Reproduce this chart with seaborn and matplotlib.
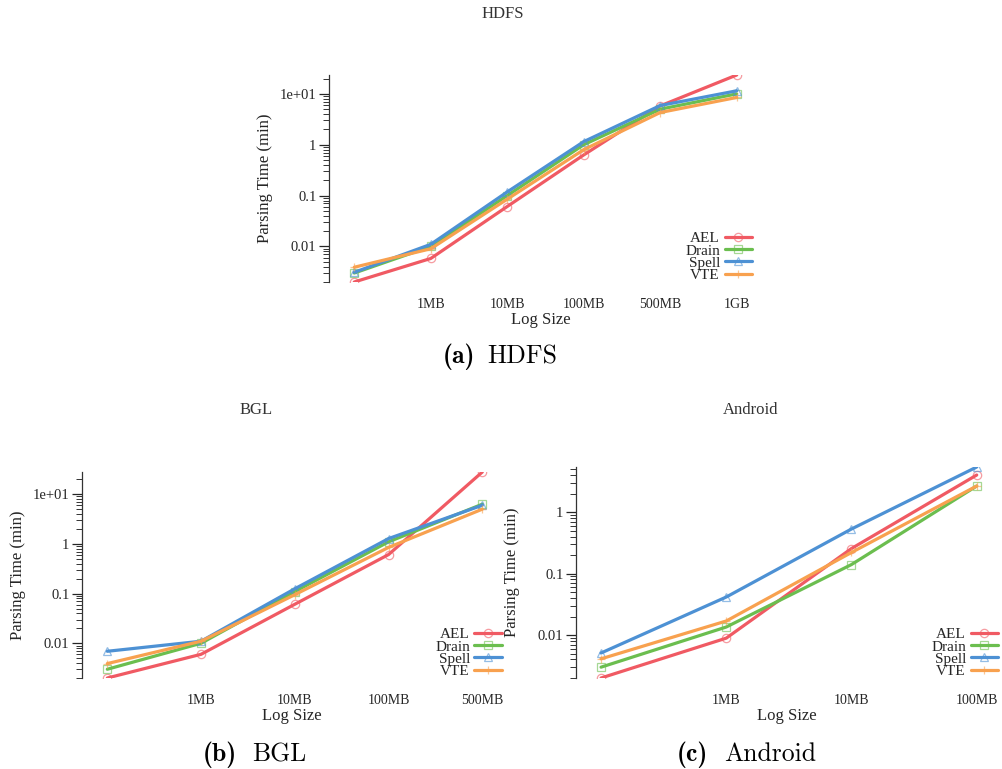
import numpy as np
import pandas as pd
import matplotlib
matplotlib.use("Agg")
import matplotlib.pyplot as plt
import matplotlib.ticker as mticker
import seaborn as sns

# ---------------- data ----------------
methods = ["AEL", "Drain", "Spell", "VTE"]

hdfs_sizes = ["", "1MB", "10MB", "100MB", "500MB", "1GB"]
hdfs_ael = [0.002, 0.0058, 0.061, 0.63, 5.8, 23.5]
hdfs_drain = [0.003, 0.0100, 0.100, 1.00, 5.0, 10.0]
hdfs_spell = [0.0031, 0.011, 0.118, 1.15, 5.9, 11.5]
hdfs_vte = [0.0039, 0.009, 0.085, 0.80, 4.3, 8.5]

bgl_sizes = ["", "1MB", "10MB", "100MB", "500MB"]
bgl_ael = [0.002, 0.006, 0.061, 0.61, 28.0]
bgl_drain = [0.003, 0.010, 0.110, 1.10, 6.3]
bgl_spell = [0.0069, 0.011, 0.125, 1.28, 6.0]
bgl_vte = [0.0039, 0.011, 0.095, 0.85, 5.0]

android_sizes = ["", "1MB", "10MB", "100MB"]
android_ael = [0.002, 0.0089, 0.255, 4.0]
android_drain = [0.003, 0.0135, 0.140, 2.65]
android_spell = [0.0051, 0.0415, 0.53, 5.4]
android_vte = [0.0041, 0.0169, 0.220, 2.65]

panel_titles = ["HDFS", "BGL", "Android"]
caption_labels = ["(a)", "(b)", "(c)"]

# ---------------- style ----------------
sns.set_theme(style="white")
plt.rcParams["font.family"] = ["Liberation Serif", "DejaVu Serif"]

colors = {"AEL": "#F05A63", "Drain": "#6BBE4F", "Spell": "#4D91D4", "VTE": "#F8A14F"}
markers = {"AEL": "o", "Drain": "s", "Spell": "^", "VTE": "+"}
text_color = "#262626"

W, H = 1002, 769
fig = plt.figure(figsize=(W / 100, H / 100), dpi=100)


def rect(left, top, right, bottom):
    return [left / W, 1 - bottom / H, (right - left) / W, (bottom - top) / H]


def fmt(v, pos):
    if v >= 10:
        return f"{v:.0e}"
    return f"{v:g}"


def draw(ax, sizes, series, xlim):
    x = np.arange(len(sizes))
    allv = []
    for name, vals in zip(methods, series):
        df = pd.DataFrame({"size": x, "time": vals})
        allv.extend(vals)
        c = colors[name]
        sns.lineplot(data=df, x="size", y="time", ax=ax, color=c, linewidth=2.3,
                     marker=markers[name], markersize=6, markerfacecolor="none",
                     markeredgecolor=matplotlib.colors.to_rgba(c, 0.6),
                     markeredgewidth=0.9, label=name)
    ax.set_yscale("log")
    ax.set_ylim(min(allv), max(allv))
    ax.set_xlim(*xlim)
    ax.set_xticks(x)
    ax.set_xticklabels(sizes)
    ax.yaxis.set_major_locator(mticker.LogLocator(base=10))
    ax.yaxis.set_minor_locator(mticker.LogLocator(base=10, subs=np.arange(2, 10)))
    ax.yaxis.set_major_formatter(mticker.FuncFormatter(fmt))
    ax.yaxis.set_minor_formatter(mticker.NullFormatter())
    for s in ["top", "right", "bottom"]:
        ax.spines[s].set_visible(False)
    ax.spines["left"].set_color("#333333")
    ax.spines["left"].set_linewidth(0.9)
    ax.tick_params(axis="x", length=0, pad=11.5, labelsize=10, colors=text_color)
    ax.tick_params(axis="y", which="major", left=True, length=7, width=0.9,
                   pad=2, labelsize=10.5, colors=text_color)
    ax.tick_params(axis="y", which="minor", left=True, length=4.3, width=0.7,
                   color="#333333")
    ax.set_xlabel("Log Size", fontsize=12, color=text_color)
    ax.set_ylabel("Parsing Time (min)", fontsize=12, color=text_color)
    ax.xaxis.label.set_va("center")
    ax.yaxis.label.set_va("center")
    ax.grid(False)
    handles, labels = ax.get_legend_handles_labels()
    ax.legend(handles, labels, loc="lower right", markerfirst=False, frameon=False,
              fontsize=11, labelspacing=-0.1, handlelength=1.8, handletextpad=0.3,
              borderpad=0.0, borderaxespad=0.0, labelcolor=text_color)


# HDFS
ax1 = fig.add_axes(rect(329, 75, 752, 282))
draw(ax1, hdfs_sizes, [hdfs_ael, hdfs_drain, hdfs_spell, hdfs_vte], (-0.33, 5.2))
ax1.xaxis.set_label_coords(0.5, -38 / 207)
ax1.yaxis.set_label_coords(-64 / 423, 0.5)

# BGL
ax2 = fig.add_axes(rect(82, 472, 502, 678))
draw(ax2, bgl_sizes, [bgl_ael, bgl_drain, bgl_spell, bgl_vte], (-0.27, 4.21))
ax2.xaxis.set_label_coords(0.5, -38 / 206)
ax2.yaxis.set_label_coords(-64 / 420, 0.5)

# Android
ax3 = fig.add_axes(rect(576, 467, 998, 678))
draw(ax3, android_sizes, [android_ael, android_drain, android_spell, android_vte], (-0.2, 3.17))
ax3.xaxis.set_label_coords(0.5, -38 / 211)
ax3.yaxis.set_label_coords(-64 / 422, 0.5)

# panel titles
for t, (cx, cy) in zip(panel_titles, [(503, 14), (256, 410), (751, 410)]):
    fig.text(cx / W, 1 - cy / H, t, ha="center", va="center", fontsize=12, color="#333333")

# captions
cap_pos = [((443, 487), 363), ((203, 252), 761), ((677, 724), 761)]
for lab, t, ((xl, xt), yb) in zip(caption_labels, panel_titles, cap_pos):
    fig.text(xl / W, 1 - yb / H, lab, ha="left", va="baseline", fontsize=18.5,
             family=["cmb10", "DejaVu Serif"], color="black")
    fig.text(xt / W, 1 - yb / H, t, ha="left", va="baseline", fontsize=18.5,
             family=["cmr10", "DejaVu Serif"], color="black")

fig.savefig("out.png", dpi=100, facecolor="white")
